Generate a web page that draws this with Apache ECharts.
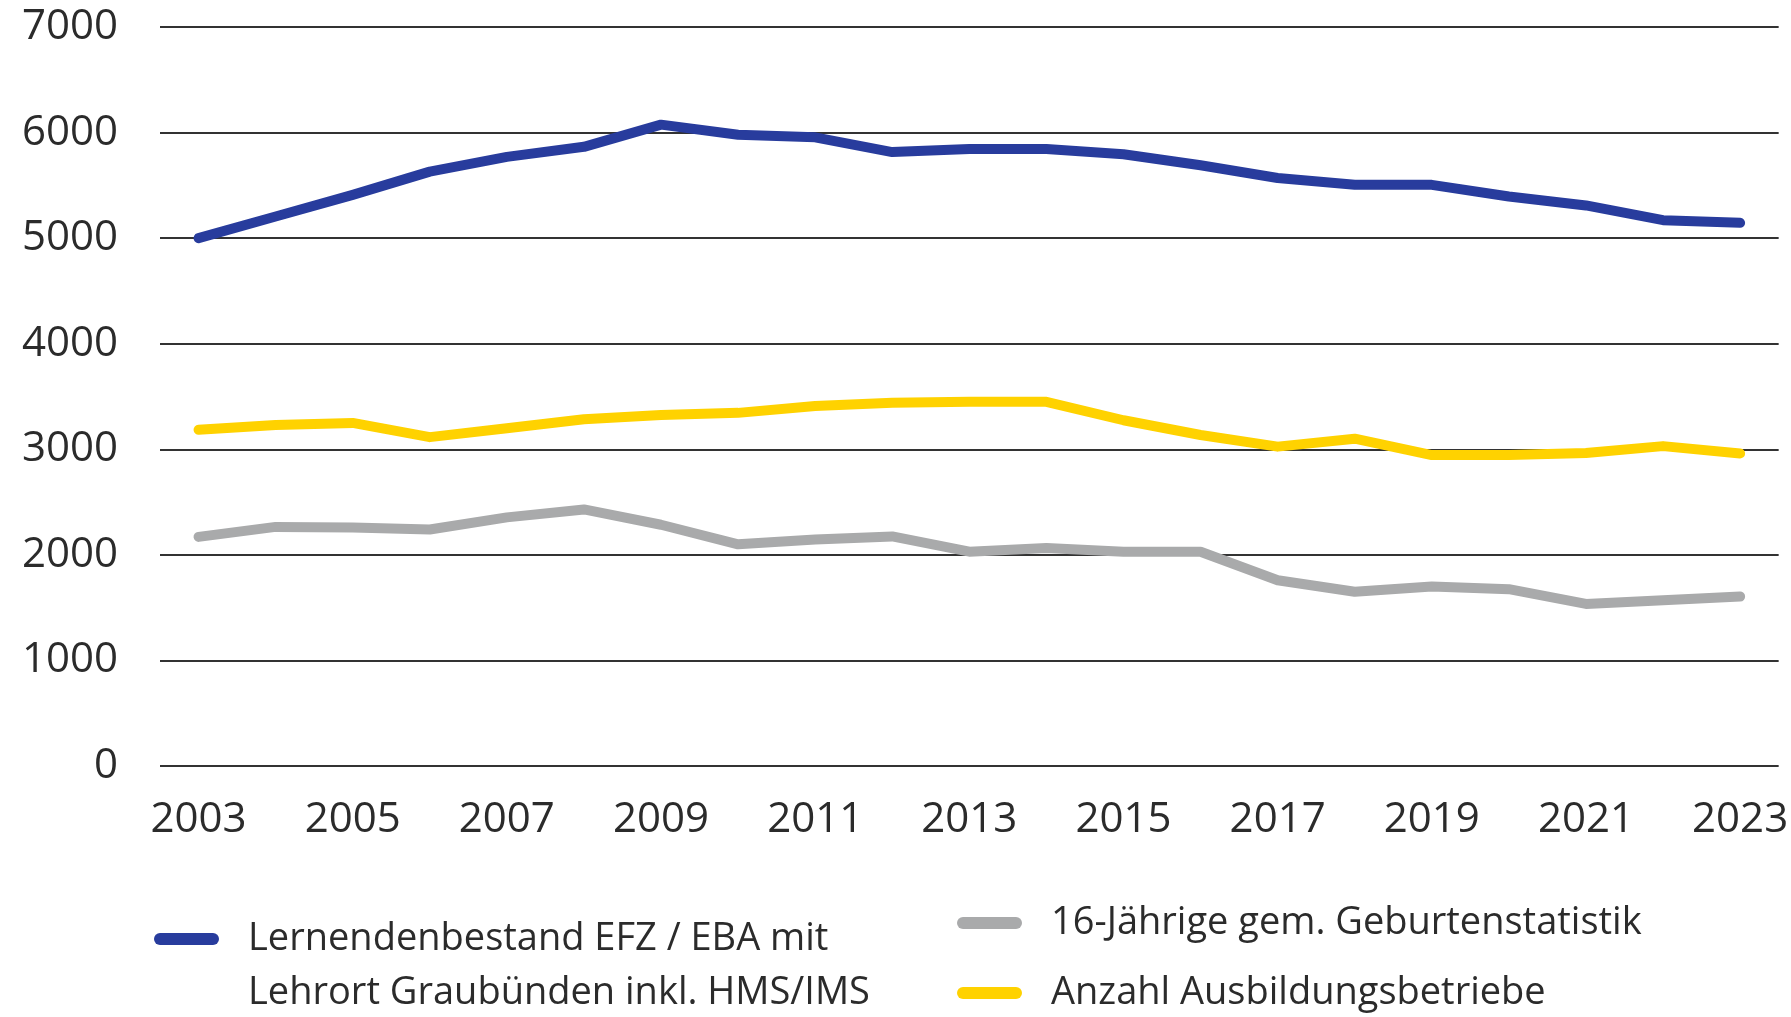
<!DOCTYPE html>
<html>
<head>
<meta charset="utf-8">
<script src="https://cdn.jsdelivr.net/npm/echarts@6/dist/echarts.min.js"></script>
<style>
html,body{margin:0;padding:0;background:#fff;}
#chart{width:1791px;height:1017px;}
</style>
</head>
<body>
<div id="chart"></div>
<script>
const years = ['2003','2004','2005','2006','2007','2008','2009','2010','2011','2012','2013','2014','2015','2016','2017','2018','2019','2020','2021','2022','2023'];
const lernende = [5000,5205,5410,5630,5770,5865,6075,5980,5955,5815,5845,5845,5795,5690,5570,5505,5505,5395,5310,5170,5145];
const sechzehnjaehrige = [2170,2265,2260,2240,2355,2430,2285,2100,2145,2175,2030,2065,2030,2030,1760,1650,1700,1675,1535,1570,1605];
const betriebe = [3185,3230,3250,3115,3200,3285,3325,3345,3410,3440,3450,3450,3275,3135,3025,3100,2945,2945,2965,3030,2960];
const yTicks = {min:0, max:7000, interval:1000};

const nameBlue = 'Lernendenbestand EFZ / EBA mit Lehrort Graubünden inkl. HMS/IMS';
const nameGray = '16-Jährige gem. Geburtenstatistik';
const nameYellow = 'Anzahl Ausbildungsbetriebe';

const FONT = '"Open Sans", "DejaVu Sans", sans-serif';
const capsule = 'path://M6,0 H59 A6,6 0 0 1 59,12 H6 A6,6 0 0 1 6,0 Z';

const chart = echarts.init(document.getElementById('chart'));
const legendText = {fontFamily: FONT, fontSize: 38, color: '#2b2b2b', lineHeight: 42, padding: [0,0,0,24]};
chart.setOption({
  backgroundColor: '#ffffff',
  animation: false,
  grid: {left: 160, right: 6, top: 27, bottom: 251, containLabel: false},
  xAxis: {
    type: 'category',
    data: years,
    boundaryGap: true,
    axisLine: {show: false},
    axisTick: {show: false},
    axisLabel: {interval: 1, fontFamily: FONT, fontSize: 42, color: '#2b2b2b', margin: 33}
  },
  yAxis: {
    type: 'value',
    min: yTicks.min, max: yTicks.max, interval: yTicks.interval,
    axisLine: {show: false},
    axisTick: {show: false},
    axisLabel: {fontFamily: FONT, fontSize: 42, color: '#2b2b2b', margin: 42, formatter: v => String(v)},
    splitLine: {show: true, lineStyle: {color: '#333333', width: 2}}
  },
  legend: [
    {data: [nameBlue], left: 154, top: 918, padding: 0, icon: capsule, itemWidth: 65, itemHeight: 12,
     formatter: () => 'Lernendenbestand EFZ / EBA mit', textStyle: legendText, selectedMode: false},
    {data: [nameGray], left: 957, top: 902, padding: 0, icon: capsule, itemWidth: 65, itemHeight: 12,
     textStyle: legendText, selectedMode: false},
    {data: [nameYellow], left: 957, top: 972, padding: 0, icon: capsule, itemWidth: 65, itemHeight: 12,
     textStyle: legendText, selectedMode: false}
  ],
  graphic: [
    {type: 'text', left: 248, top: 972, style: {text: 'Lehrort Graubünden inkl. HMS/IMS', font: '38px ' + FONT, fill: '#2b2b2b', lineHeight: 42}}
  ],
  series: [
    {name: nameBlue, type: 'line', data: lernende, showSymbol: false, symbol: 'none',
     lineStyle: {color: '#283c9d', width: 10, cap: 'round', join: 'round'}, itemStyle: {color: '#283c9d'}},
    {name: nameYellow, type: 'line', data: betriebe, showSymbol: false, symbol: 'none',
     lineStyle: {color: '#ffd200', width: 10, cap: 'round', join: 'round'}, itemStyle: {color: '#ffd200'}},
    {name: nameGray, type: 'line', data: sechzehnjaehrige, showSymbol: false, symbol: 'none',
     lineStyle: {color: '#a9aaab', width: 10, cap: 'round', join: 'round'}, itemStyle: {color: '#a9aaab'}}
  ]
});
</script>
</body>
</html>
